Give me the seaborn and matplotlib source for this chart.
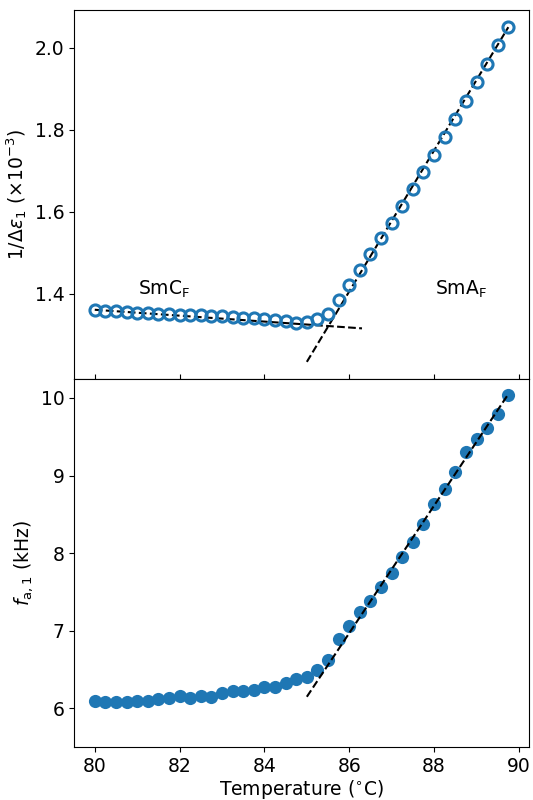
import matplotlib
matplotlib.use('Agg')
import matplotlib.pyplot as plt
import numpy as np
import pandas as pd
import seaborn as sns

# temperatures (deg C), 0.25 steps
temperature = [80.00, 80.25, 80.50, 80.75, 81.00, 81.25, 81.50, 81.75,
               82.00, 82.25, 82.50, 82.75, 83.00, 83.25, 83.50, 83.75,
               84.00, 84.25, 84.50, 84.75, 85.00, 85.25, 85.50, 85.75,
               86.00, 86.25, 86.50, 86.75, 87.00, 87.25, 87.50, 87.75,
               88.00, 88.25, 88.50, 88.75, 89.00, 89.25, 89.50, 89.75]

# 1/delta eps_1 (x 1e-3)
inv_deps = [1.361, 1.358, 1.357, 1.355, 1.354, 1.353, 1.351, 1.350,
            1.349, 1.348, 1.347, 1.346, 1.345, 1.344, 1.342, 1.341,
            1.338, 1.336, 1.333, 1.329, 1.330, 1.338, 1.350, 1.385,
            1.421, 1.459, 1.496, 1.537, 1.573, 1.614, 1.655, 1.696,
            1.739, 1.782, 1.827, 1.871, 1.916, 1.961, 2.007, 2.051]

# relaxation frequency f_a,1 (kHz)
f_a1 = [6.09, 6.08, 6.08, 6.08, 6.09, 6.10, 6.12, 6.14,
        6.16, 6.14, 6.16, 6.15, 6.20, 6.22, 6.22, 6.24,
        6.27, 6.27, 6.33, 6.38, 6.41, 6.50, 6.63, 6.89,
        7.06, 7.24, 7.38, 7.57, 7.75, 7.95, 8.14, 8.38,
        8.64, 8.83, 9.05, 9.30, 9.47, 9.61, 9.79, 10.04]

# linear fits (end points) drawn as dashed guides
fit_smc_x = [80.0, 86.3]
fit_smc_y = [1.361, 1.3156]
fit_sma_x = [85.0, 89.75]
fit_sma_y = [1.234, 2.050]
fit_f_x = [85.0, 89.75]
fit_f_y = [6.15, 10.05]

df = pd.DataFrame({'T': temperature, 'inv': inv_deps, 'f': f_a1})

plt.rcParams['font.family'] = ['DejaVu Sans']
plt.rcParams['font.size'] = 13.5
plt.rcParams['mathtext.fontset'] = 'dejavusans'

fig, (ax1, ax2) = plt.subplots(2, 1, sharex=True, figsize=(5.33, 8), dpi=100)
fig.subplots_adjust(left=0.139, right=0.9925, top=0.9875, bottom=0.066, hspace=0)

blue = '#1f77b4'

sns.lineplot(x=fit_smc_x, y=fit_smc_y, ax=ax1, color='k', linestyle='--', lw=1.5)
sns.lineplot(x=fit_sma_x, y=fit_sma_y, ax=ax1, color='k', linestyle='--', lw=1.5)
sns.lineplot(data=df, x='T', y='inv', ax=ax1, linestyle='', marker='o',
             markersize=8, markerfacecolor='none', markeredgecolor=blue,
             markeredgewidth=2.2)

ax1.text(81.63, 1.41, r'SmC$_\mathrm{F}$', ha='center', va='center', fontsize=13.5)
ax1.text(88.63, 1.41, r'SmA$_\mathrm{F}$', ha='center', va='center', fontsize=13.5)
ax1.set_ylabel(r'$1/\Delta\varepsilon_1$ ($\times 10^{-3}$)')
ax1.set_yticks([1.4, 1.6, 1.8, 2.0])
ax1.tick_params(axis='x', direction='in')

sns.lineplot(x=fit_f_x, y=fit_f_y, ax=ax2, color='k', linestyle='--', lw=1.5)
sns.scatterplot(data=df, x='T', y='f', ax=ax2, color=blue, s=90, linewidth=0,
                zorder=1)
ax2.set_ylim(5.5, 10.25)
ax2.set_yticks([6, 7, 8, 9, 10])
ax2.set_xticks([80, 82, 84, 86, 88, 90])
ax2.set_xlabel(r'Temperature ($^{\circ}$C)', labelpad=1.5)
ax2.set_ylabel(r'$f_{\mathrm{a},1}$ (kHz)')

fig.savefig('out.png', dpi=100)
